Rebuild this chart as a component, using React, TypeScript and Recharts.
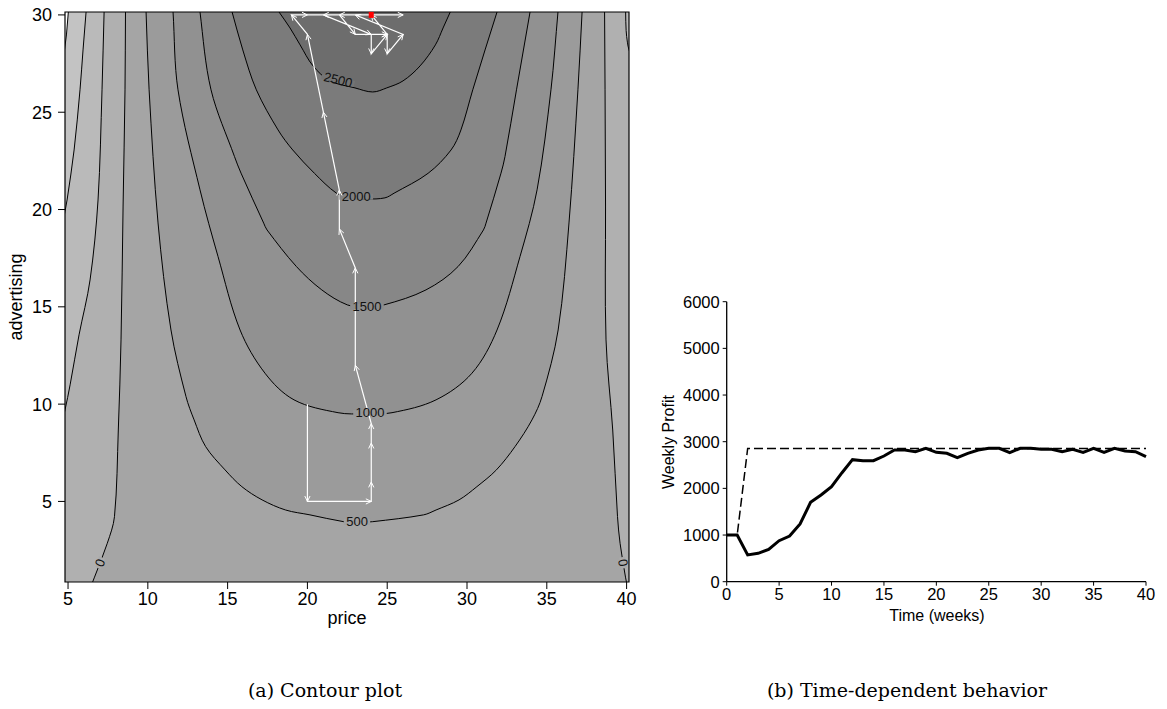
import {
  ComposedChart,
  LineChart,
  Area,
  Line,
  XAxis,
  YAxis,
  ReferenceDot,
  ReferenceArea,
} from 'recharts';

// ---- (a) contour plot ----
const PRICE_MIN = 4.81;
const PRICE_MAX = 40.15;
const ADV_MIN = 0.86;
const ADV_MAX = 30.15;

const priceTicks = [5, 10, 15, 20, 25, 30, 35, 40];
const advTicks = [5, 10, 15, 20, 25, 30];

// rows: [advertising, price on left branch, price on right branch], top to bottom.
// first / last rows run a little past the frame so the curves leave it cleanly
const contour0 = [
  [31.5, 8.62, 38.6],
  [30.15, 8.6, 38.62],
  [26.15, 8.57, 38.65],
  [20.18, 8.45, 38.68],
  [13.3, 8.32, 38.71],
  [8.67, 8.15, 39.13],
  [4.22, 7.91, 39.43],
  [2.85, 7.46, 39.59],
  [1.11, 6.66, 39.93],
  [0.86, 6.54, 39.99],
  [-0.5, 5.89, 40.32],
];
const contour500 = [
  [31.5, 9.83, 37.3],
  [30.15, 9.89, 37.21],
  [26.15, 10.08, 36.95],
  [19.31, 10.64, 36.39],
  [13.81, 11.45, 35.71],
  [10.39, 12.39, 34.7],
  [9.19, 12.9, 34.07],
  [7.82, 13.62, 33.01],
  [6.62, 14.84, 31.84],
  [5.76, 15.89, 30.62],
  [5.08, 17.16, 29.5],
  [4.56, 18.63, 28.06],
  [4.31, 20.16, 27.28],
  [3.96, 22.27, 24.09],
  [3.92, 23.17, 23.17],
];
const contour1000 = [
  [31.5, 11.48, 35.85],
  [30.15, 11.58, 35.7],
  [26.15, 11.89, 35.26],
  [21.01, 13.27, 34.39],
  [17.58, 14.4, 33.32],
  [13.81, 15.78, 31.88],
  [11.59, 17.34, 30.31],
  [10.22, 19.16, 28.06],
  [9.56, 21.92, 25.3],
  [9.5, 23.61, 23.61],
];
const contour1500 = [
  [31.5, 13.15, 34.24],
  [30.15, 13.27, 33.95],
  [26.15, 13.96, 33.1],
  [22.72, 15.43, 32.38],
  [21.87, 15.84, 32.13],
  [19.3, 17.26, 31.19],
  [18.95, 17.47, 31.03],
  [17.07, 19.31, 29.44],
  [15.87, 20.9, 27.43],
  [15.1, 22.5, 24.8],
  [15.0, 23.61, 23.61],
];
const contour2000 = [
  [31.5, 14.82, 32.4],
  [30.15, 15.28, 31.88],
  [28.2, 15.95, 31.13],
  [26.15, 16.8, 30.36],
  [24.09, 18.16, 29.62],
  [23.06, 19.08, 29.0],
  [21.86, 20.44, 27.56],
  [20.84, 21.82, 25.43],
  [20.6, 22.67, 24.86],
  [20.54, 23.73, 23.73],
];
const contour2500 = [
  [31.5, 17.09, 29.69],
  [30.15, 18.22, 28.95],
  [29.33, 18.91, 28.5],
  [28.46, 19.54, 28.02],
  [27.38, 20.35, 27.06],
  [26.61, 21.42, 25.99],
  [26.25, 22.98, 24.97],
  [26.04, 24.09, 24.09],
];

// contours only touching the edges: [price, advertising]
const contourNeg1500 = [[4.6, 27.0], [4.81, 28.4], [4.9, 28.97], [5.02, 30.15], [5.15, 31.5]];
const contourNeg1000 = [[4.6, 19.0], [4.81, 19.9], [4.94, 20.49], [5.38, 23.06], [5.75, 26.15], [5.94, 28.2], [6.13, 30.15], [6.25, 31.5]];
const contourNeg500 = [[4.5, 8.6], [4.81, 9.7], [5.13, 10.99], [5.69, 13.56], [6.38, 16.38], [6.88, 20.49], [7.13, 26.15], [7.26, 30.15], [7.33, 31.5]];
const contourNeg500Right = [[39.92, 31.5], [39.94, 30.15], [39.97, 29.2], [40.05, 28.6], [40.15, 28.2], [40.5, 27.5]];

// search trajectory [price, advertising]
const searchPath = [
  [20, 10], [20, 5], [24, 5], [24, 6], [24, 8], [24, 9], [23, 12], [23, 17],
  [22, 19], [22, 21], [21, 25], [20, 29], [19, 30], [20, 30], [26, 30], [21, 30],
  [24, 29], [24, 28], [25, 29], [25, 28], [26, 29], [23, 30], [22, 30], [23, 29],
  [25, 29], [24, 30],
];
const bestPoint = [24, 30];

const contourLabels = [
  { text: '2500', p: 21.92, a: 26.66, angle: 14 },
  { text: '2000', p: 23.06, a: 20.66, angle: 0 },
  { text: '1500', p: 23.73, a: 15.01, angle: 0 },
  { text: '1000', p: 23.92, a: 9.55, angle: 0 },
  { text: '500', p: 23.11, a: 3.95, angle: 0 },
  { text: '0', p: 7.0, a: 1.85, angle: -70 },
  { text: '0', p: 39.78, a: 1.85, angle: 80 },
];

// ---- (b) time-dependent behaviour ----
const weeks = [
  0, 1, 2, 3, 4, 5, 6, 7, 8, 9, 10, 11, 12, 13, 14, 15, 16, 17, 18, 19, 20,
  21, 22, 23, 24, 25, 26, 27, 28, 29, 30, 31, 32, 33, 34, 35, 36, 37, 38, 39, 40,
];
const weeklyProfit = [
  1000, 1000, 575, 608, 694, 879, 979, 1236, 1700, 1858, 2036, 2336, 2615, 2593,
  2593, 2693, 2822, 2822, 2786, 2858, 2772, 2751, 2660, 2751, 2822, 2858, 2858,
  2765, 2858, 2858, 2836, 2836, 2786, 2836, 2772, 2858, 2772, 2858, 2800, 2786, 2679,
];
const bestProfit = [
  1000, 1000, 2855, 2855, 2855, 2855, 2855, 2855, 2855, 2855, 2855, 2855, 2855, 2855,
  2855, 2855, 2855, 2855, 2855, 2855, 2855, 2855, 2855, 2855, 2855, 2855, 2855, 2855,
  2855, 2855, 2855, 2855, 2855, 2855, 2855, 2855, 2855, 2855, 2855, 2855, 2855,
];
const weekTicks = [0, 5, 10, 15, 20, 25, 30, 35, 40];
const profitTicks = [0, 1000, 2000, 3000, 4000, 5000, 6000];

const SANS = '"Liberation Sans", Arial, Helvetica, sans-serif';
const SERIF = '"DejaVu Serif", serif';

const PLOT_W = 564;
const PLOT_H = 570;
const pxPerPrice = PLOT_W / (PRICE_MAX - PRICE_MIN);
const pxPerAdv = PLOT_H / (ADV_MAX - ADV_MIN);

const labelBg: Record<string, string> = {
  '2500': '#747474',
  '2000': '#818181',
  '1500': '#8c8c8c',
  '1000': '#969696',
  '500': '#a0a0a0',
  '0': '#aaaaaa',
};

// smooth curve through the points (tangent from neighbours, handle length from the segment)
function smoothCurve(context: any) {
  let line = NaN;
  let pts: number[][] = [];
  return {
    areaStart() { line = 0; },
    areaEnd() { line = NaN; },
    lineStart() { pts = []; },
    point(x: number, y: number) { pts.push([+x, +y]); },
    lineEnd() {
      const n = pts.length;
      if (n) {
        if (line) context.lineTo(pts[0][0], pts[0][1]);
        else context.moveTo(pts[0][0], pts[0][1]);
        const tan = (i: number) => {
          const a = pts[Math.max(i - 1, 0)];
          const b = pts[Math.min(i + 1, n - 1)];
          const dx = b[0] - a[0];
          const dy = b[1] - a[1];
          const l = Math.hypot(dx, dy) || 1;
          return [dx / l, dy / l];
        };
        for (let i = 0; i < n - 1; i++) {
          const p1 = pts[i];
          const p2 = pts[i + 1];
          const d = Math.hypot(p2[0] - p1[0], p2[1] - p1[1]) / 3;
          const t1 = tan(i);
          const t2 = tan(i + 1);
          context.bezierCurveTo(
            p1[0] + t1[0] * d, p1[1] + t1[1] * d,
            p2[0] - t2[0] * d, p2[1] - t2[1] * d,
            p2[0], p2[1],
          );
        }
      }
      if (line || (line !== 0 && n === 1)) context.closePath();
      line = 1 - line;
    },
  };
}

// bowl: region above the curve (higher level inside the U)
const bowl = (rows: number[][]) => [
  ...rows.map(([a, l]) => ({ p: l, a })),
  ...rows.slice(0, -1).reverse().map(([a, , r]) => ({ p: r, a })),
];
// basin: region below the curve, left branch up, right branch down
const basin = (rows: number[][]) => [
  ...rows.slice().reverse().map(([a, l]) => ({ p: l, a })),
  ...rows.map(([a, , r]) => ({ p: r, a })),
];
const edge = (pts: number[][]) => pts.map(([p, a]) => ({ p, a }));
const overTop = { p: 41.5, a: 31.5 };

const regions = [
  { key: 'n1500', data: [...edge(contourNeg1500), overTop], base: ADV_MIN, fill: '#c3c3c3' },
  { key: 'n1000', data: [...edge(contourNeg1000), overTop], base: ADV_MIN, fill: '#bababa' },
  { key: 'n500', data: [...edge(contourNeg500), ...edge(contourNeg500Right)], base: ADV_MIN, fill: '#b0b0b0' },
  { key: 'c0', data: basin(contour0), base: ADV_MIN, fill: '#a5a5a5' },
  { key: 'c500', data: bowl(contour500), base: ADV_MAX, fill: '#9b9b9b' },
  { key: 'c1000', data: bowl(contour1000), base: ADV_MAX, fill: '#919191' },
  { key: 'c1500', data: bowl(contour1500), base: ADV_MAX, fill: '#878787' },
  { key: 'c2000', data: bowl(contour2000), base: ADV_MAX, fill: '#7b7b7b' },
  { key: 'c2500', data: bowl(contour2500), base: ADV_MAX, fill: '#6d6d6d' },
];

const pathData = edge(searchPath);

function ArrowHead(props: any) {
  const { cx, cy, index } = props;
  if (!index || cx == null || cy == null) return <g key={`arrow-${index}`} />;
  const [p0, a0] = searchPath[index - 1];
  const [p1, a1] = searchPath[index];
  const ang = Math.atan2(-(a1 - a0) * pxPerAdv, (p1 - p0) * pxPerPrice);
  const len = 6;
  const spread = 0.45;
  const x1 = cx - len * Math.cos(ang - spread);
  const y1 = cy - len * Math.sin(ang - spread);
  const x2 = cx - len * Math.cos(ang + spread);
  const y2 = cy - len * Math.sin(ang + spread);
  return (
    <polyline
      key={`arrow-${index}`}
      points={`${x1},${y1} ${cx},${cy} ${x2},${y2}`}
      fill="none"
      stroke="#fff"
      strokeWidth={1}
    />
  );
}

function ContourLabel({ cx, cy, text, angle }: any) {
  const w = text.length * 7.4 + 4;
  return (
    <g transform={`rotate(${angle}, ${cx}, ${cy})`}>
      <rect x={cx - w / 2} y={cy - 3} width={w} height={6} fill={labelBg[text]} />
      <text
        x={cx}
        y={cy}
        textAnchor="middle"
        dominantBaseline="central"
        fontSize={13}
        fontFamily={SANS}
        fill="#111"
      >
        {text}
      </text>
    </g>
  );
}

export default function App() {
  const profitData = weeks.map((t, i) => ({
    t,
    profit: weeklyProfit[i],
    best: bestProfit[i],
  }));

  return (
    <div style={{ position: 'absolute', left: 0, top: 0, width: 1167, height: 709, background: '#fff' }}>
      <div style={{ position: 'absolute', left: 0, top: 0 }}>
        <ComposedChart width={660} height={640} margin={{ top: 12, right: 31, bottom: 28, left: 10 }}>
          <XAxis
            dataKey="p"
            type="number"
            domain={[PRICE_MIN, PRICE_MAX]}
            ticks={priceTicks}
            allowDataOverflow
            axisLine={false}
            tickLine={{ stroke: '#000' }}
            tickSize={7}
            tickMargin={3}
            height={30}
            tick={{ fill: '#000', fontSize: 18, fontFamily: SANS }}
          />
          <YAxis
            dataKey="a"
            type="number"
            domain={[ADV_MIN, ADV_MAX]}
            ticks={advTicks}
            allowDataOverflow
            axisLine={false}
            tickLine={{ stroke: '#000' }}
            tickSize={7}
            tickMargin={6}
            width={55}
            tick={{ fill: '#000', fontSize: 18, fontFamily: SANS }}
          />
          {regions.map(r => (
            <Area
              key={r.key}
              data={r.data}
              dataKey="a"
              type={smoothCurve as any}
              baseValue={r.base}
              stroke="#000"
              strokeWidth={1}
              fill={r.fill}
              fillOpacity={1}
              dot={false}
              activeDot={false}
              isAnimationActive={false}
            />
          ))}
          {contourLabels.map((l, i) => (
            <ReferenceDot
              key={`lab-${i}`}
              x={l.p}
              y={l.a}
              shape={(props: any) => <ContourLabel {...props} text={l.text} angle={l.angle} />}
            />
          ))}
          <Line
            data={pathData}
            dataKey="a"
            type="linear"
            stroke="#fff"
            strokeWidth={1.2}
            dot={ArrowHead}
            activeDot={false}
            isAnimationActive={false}
          />
          <ReferenceDot
            x={bestPoint[0]}
            y={bestPoint[1]}
            shape={(props: any) => (
              <rect x={props.cx - 2.5} y={props.cy - 3} width={5} height={6} fill="#ff0000" />
            )}
          />
          <ReferenceArea
            x1={PRICE_MIN}
            x2={PRICE_MAX}
            y1={ADV_MIN}
            y2={ADV_MAX}
            fill="none"
            stroke="#000"
            strokeWidth={1.2}
            ifOverflow="visible"
          />
        </ComposedChart>
      </div>

      <div style={{ position: 'absolute', left: 640, top: 280 }}>
        <LineChart width={527} height={350} data={profitData} margin={{ top: 21.7, right: 21, bottom: 18.3, left: 26.7 }}>
          <XAxis
            dataKey="t"
            type="number"
            domain={[0, 40]}
            ticks={weekTicks}
            axisLine={{ stroke: '#000', strokeWidth: 1.3 }}
            tickLine={{ stroke: '#000' }}
            tickSize={4}
            tickMargin={3}
            height={30}
            tick={{ fill: '#000', fontSize: 16.5, fontFamily: SANS }}
          />
          <YAxis
            type="number"
            domain={[0, 6000]}
            ticks={profitTicks}
            axisLine={{ stroke: '#000', strokeWidth: 1.3 }}
            tickLine={{ stroke: '#000' }}
            tickSize={4}
            tickMargin={3}
            width={60}
            tick={{ fill: '#000', fontSize: 16.5, fontFamily: SANS }}
          />
          <Line
            dataKey="best"
            type="linear"
            stroke="#000"
            strokeWidth={1.5}
            strokeDasharray="9 4"
            dot={false}
            activeDot={false}
            isAnimationActive={false}
          />
          <Line
            dataKey="profit"
            type="linear"
            stroke="#000"
            strokeWidth={3}
            dot={false}
            activeDot={false}
            isAnimationActive={false}
          />
        </LineChart>
      </div>

      <svg
        width={1167}
        height={709}
        style={{ position: 'absolute', left: 0, top: 0, pointerEvents: 'none' }}
      >
        <text x={347} y={624} textAnchor="middle" fontSize={18} fontFamily={SANS} fill="#000">
          price
        </text>
        <text
          x={22}
          y={297}
          textAnchor="middle"
          fontSize={18}
          fontFamily={SANS}
          fill="#000"
          transform="rotate(-90, 22, 297)"
        >
          advertising
        </text>
        <text
          x={674}
          y={442}
          textAnchor="middle"
          fontSize={16}
          fontFamily={SANS}
          fill="#000"
          transform="rotate(-90, 674, 442)"
        >
          Weekly Profit
        </text>
        <text x={937} y={621} textAnchor="middle" fontSize={16} fontFamily={SANS} fill="#000">
          Time (weeks)
        </text>
        <text x={325} y={697} textAnchor="middle" fontSize={19} fontFamily={SERIF} fill="#000">
          (a) Contour plot
        </text>
        <text x={907} y={697} textAnchor="middle" fontSize={19} fontFamily={SERIF} fill="#000">
          (b) Time-dependent behavior
        </text>
      </svg>
    </div>
  );
}
